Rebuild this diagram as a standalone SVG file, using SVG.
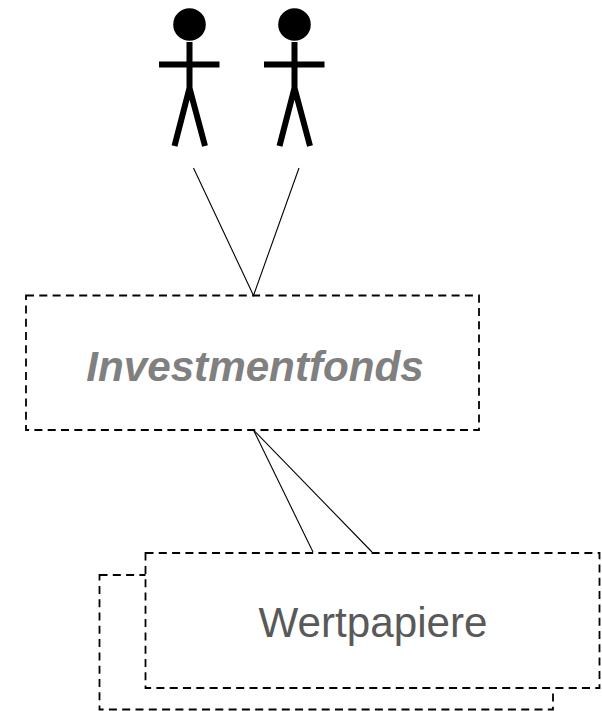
<svg xmlns="http://www.w3.org/2000/svg" width="602" height="711" viewBox="0 0 602 711">
<style>
.box{fill:#fff;stroke:#000;stroke-width:1.8;stroke-dasharray:8 5.300}
.line{fill:none;stroke:#000;stroke-width:1.1}
.limb{fill:none;stroke:#000;stroke-width:6}
.a{font-family:"Liberation Sans",Arial,sans-serif;text-anchor:middle;font-size:42.200px}
</style>
<rect width="602" height="711" fill="#fff"/>
<g id="actor1">
<circle cx="189.500" cy="24.500" r="16.300"/>
<path class="limb" d="M189.500 42V88M159 64.500H219.500M189.500 88L174.500 146M189.500 88L205 146"/>
</g>
<g id="actor2">
<circle cx="294.500" cy="24.500" r="16.300"/>
<path class="limb" d="M294.500 42V88M264 64.500H324.500M294.500 88L279.500 146M294.500 88L310 146"/>
</g>
<g id="investmentfonds">
<rect class="box" x="26" y="295.500" width="453" height="134.500"/>
<text class="a" x="255" y="380.500" font-weight="bold" font-style="italic" fill="#808080">Investmentfonds</text>
</g>
<g id="wertpapiere">
<rect class="box" x="99.500" y="575" width="453.500" height="134.500"/>
<rect class="box" x="145.500" y="553" width="454" height="135"/>
<text class="a" x="373" y="637" fill="#595959">Wertpapiere</text>
</g>
<g id="connectors">
<path class="line" d="M193.500 168L253.500 295.500L299 168"/>
<path class="line" d="M253.500 430L313 552"/>
<path class="line" d="M253.500 430L372 552"/>
</g>
</svg>
